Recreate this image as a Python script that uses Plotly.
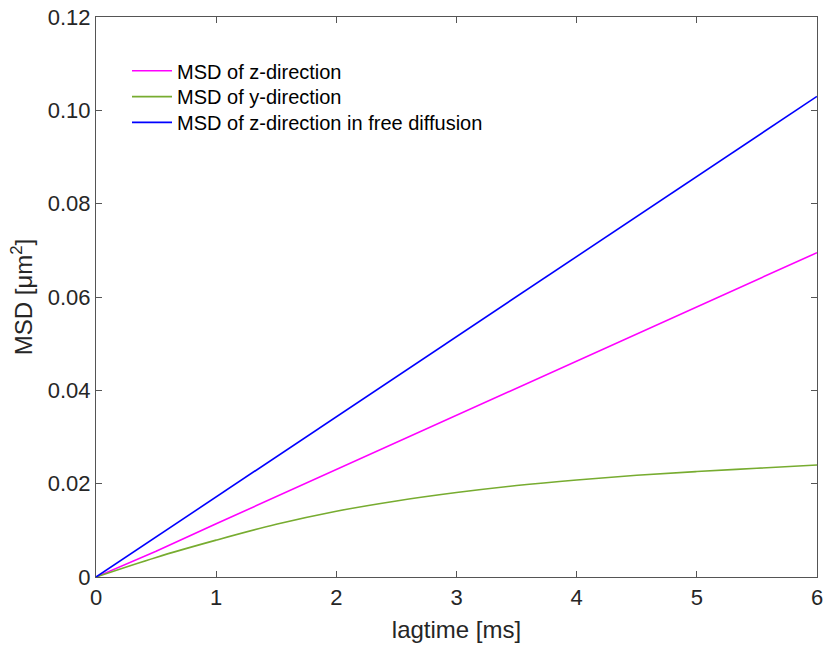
import plotly.graph_objects as go

lagtime = [0, 0.5, 1, 1.5, 2, 2.5, 3, 3.5, 4, 4.5, 5, 5.5, 6]
msd_z = [0, 0.0055, 0.0114, 0.0172, 0.0231, 0.0289, 0.0347, 0.0405, 0.0463, 0.0521, 0.0579, 0.0637, 0.0695]
msd_y = [0, 0.0042, 0.0079, 0.0113, 0.0141, 0.0163, 0.0181, 0.0196, 0.0208, 0.0218, 0.0226, 0.0233, 0.0240]
msd_free = [0, 0.00858, 0.01717, 0.02575, 0.03433, 0.04292, 0.0515, 0.06008, 0.06867, 0.07725, 0.08583, 0.09442, 0.103]

xticks = [0, 1, 2, 3, 4, 5, 6]
yticks = [0, 0.02, 0.04, 0.06, 0.08, 0.10, 0.12]
ytick_labels = ["0", "0.02", "0.04", "0.06", "0.08", "0.10", "0.12"]

fig = go.Figure()
fig.add_trace(go.Scatter(x=lagtime, y=msd_z, mode="lines", name="MSD of z-direction",
                         line=dict(color="#FF00FF", width=1.6), legend="legend"))
fig.add_trace(go.Scatter(x=lagtime, y=msd_y, mode="lines", name="MSD of y-direction",
                         line=dict(color="#77AC30", width=1.6, shape="spline"), legend="legend2"))
fig.add_trace(go.Scatter(x=lagtime, y=msd_free, mode="lines", name="MSD of z-direction in free diffusion",
                         line=dict(color="#0000FF", width=1.6), legend="legend3"))

axis_common = dict(
    showline=True, linecolor="#555555", linewidth=1.2, mirror="ticks",
    ticks="inside", ticklen=6, tickcolor="#555555", tickwidth=1.2,
    showgrid=False, zeroline=False, ticklabeloverflow="allow",
    tickfont=dict(family="Liberation Sans, Arial", size=22, color="#262626"),
)

def leg(ypos):
    return dict(x=0.043, y=ypos, xanchor="left", yanchor="top",
                bgcolor="rgba(0,0,0,0)", borderwidth=0, itemwidth=40,
                font=dict(family="Liberation Sans, Arial", size=20, color="#000000"))

fig.update_layout(
    width=828, height=653,
    margin=dict(l=96, r=5, t=13, b=76),
    paper_bgcolor="white", plot_bgcolor="white",
    font=dict(family="Liberation Sans, Arial", color="#262626"),
    xaxis=dict(range=[0, 6], tickvals=xticks, ticktext=[str(v) for v in xticks],
               title=dict(text="lagtime [ms]", font=dict(size=24, color="#262626"), standoff=12),
               **axis_common),
    yaxis=dict(range=[0, 0.12], tickvals=yticks, ticktext=ytick_labels,
               title=dict(text="MSD [μm<sup>2</sup>]", font=dict(size=24, color="#262626"), standoff=8),
               **axis_common),
    legend=leg(0.9388),
    legend2=leg(0.8927),
    legend3=leg(0.8466),
    showlegend=True,
)

fig.write_html("out.html")
